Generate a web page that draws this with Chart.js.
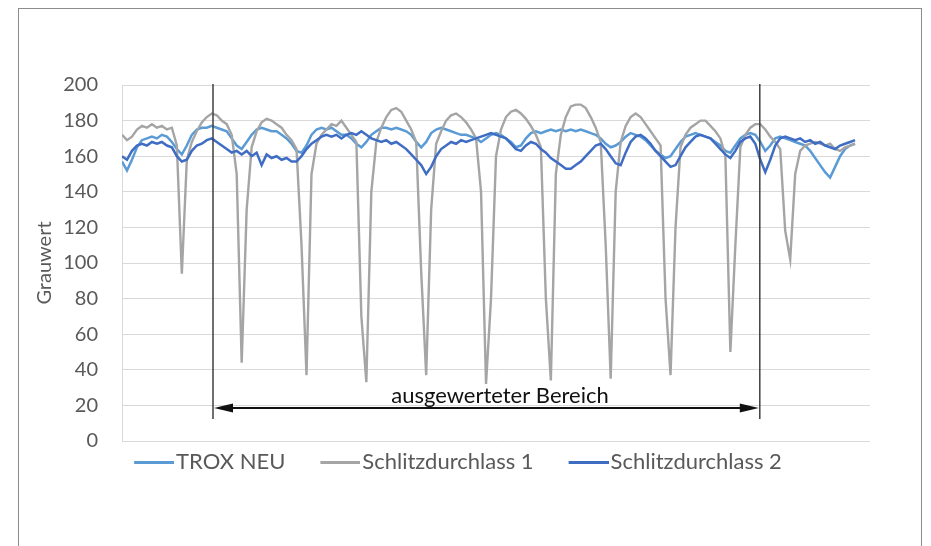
<!DOCTYPE html>
<html>
<head>
<meta charset="utf-8">
<title>Grauwert</title>
<script src="https://cdn.jsdelivr.net/npm/chart.js@4.4.1/dist/chart.umd.min.js"></script>
<style>
    html, body { margin: 0; padding: 0; background: #fff; overflow: hidden; }
    #wrap { position: relative; width: 931px; height: 546px; }
    #frame { position: absolute; left: 18px; top: 8px; width: 904px; height: 560px; border: 1.5px solid #8c8c8c; box-sizing: border-box; }
    #chart { position: absolute; left: 0; top: 0; }
</style>
</head>
<body>
<div id="wrap">
    <div id="frame"></div>
    <canvas id="chart" width="931" height="546"></canvas>
</div>
<script>
// Data (one sample every ~5 px)
var troxNeu = [
    157, 152, 158, 165, 169, 170, 171, 170, 172, 171,
    168, 164, 161, 166, 172, 175, 176, 176, 177, 176,
    175, 174, 170, 166, 164, 168, 172, 175, 176, 175,
    174, 174, 172, 170, 167, 163, 162, 166, 172, 175,
    176, 175, 176, 174, 172, 172, 170, 167, 165, 168,
    172, 174, 176, 176, 175, 176, 175, 174, 172, 168,
    165, 168, 173, 175, 176, 175, 174, 173, 172, 172,
    171, 170, 168, 170, 172, 173, 172, 170, 168, 165,
    166, 170, 173, 174, 173, 174, 175, 174, 175, 174,
    175, 174, 175, 174, 173, 172, 170, 167, 165, 166,
    168, 171, 173, 172, 171, 169, 166, 163, 161, 159,
    160, 164, 168, 171, 172, 173, 172, 171, 170, 168,
    166, 163, 162, 166, 170, 172, 173, 172, 168, 163,
    166, 170, 171, 170, 169, 168, 167, 166, 163, 159,
    155, 151, 148, 154, 160, 164, 166, 167
];

var schlitz1 = [
    172, 169, 171, 175, 177, 176, 178, 176, 177, 175,
    176, 166, 94, 158, 168, 174, 179, 182, 184, 183,
    180, 178, 172, 150, 44, 130, 165, 174, 179, 181,
    180, 178, 176, 172, 169, 164, 110, 37, 150, 167,
    172, 175, 178, 177, 180, 176, 172, 168, 70, 33,
    140, 168, 176, 182, 186, 187, 185, 180, 175, 168,
    95, 37, 130, 167, 174, 180, 183, 184, 182, 179,
    175, 170, 140, 32, 80, 160, 175, 182, 185, 186,
    184, 181, 177, 172, 165, 80, 34, 150, 172, 182,
    188, 189, 189, 187, 182, 176, 168, 110, 35, 140,
    168, 177, 182, 184, 182, 178, 174, 170, 166, 80,
    37, 120, 165, 172, 176, 178, 180, 180, 177, 174,
    170, 160, 50, 110, 165, 172, 176, 178, 178, 175,
    171, 168, 164, 118, 102, 150, 163, 166, 167, 168,
    167, 166, 167, 164, 163, 165, 166, 167
];

var schlitz2 = [
    160, 158, 163, 166, 167, 166, 168, 167, 168, 166,
    165, 160, 157, 158, 163, 166, 167, 169, 170, 168,
    166, 164, 162, 163, 161, 163, 160, 162, 155, 161,
    159, 160, 158, 159, 157, 157, 160, 164, 167, 169,
    171, 172, 171, 172, 170, 172, 173, 172, 174, 172,
    170, 169, 168, 169, 167, 168, 166, 164, 161, 158,
    155, 150, 154, 160, 164, 166, 168, 167, 169, 168,
    169, 170, 171, 172, 173, 172, 171, 170, 167, 164,
    163, 166, 168, 167, 164, 162, 159, 157, 155, 153,
    153, 155, 157, 160, 163, 166, 167, 164, 160, 156,
    155, 162, 168, 171, 172, 170, 167, 163, 160, 157,
    154, 155, 160, 165, 168, 171, 172, 171, 170, 167,
    164, 161, 159, 163, 168, 170, 171, 167, 158, 151,
    158, 166, 170, 171, 170, 169, 170, 168, 169, 167,
    168, 166, 165, 164, 166, 167, 168, 169
];

var seriesNames = ['TROX NEU', 'Schlitzdurchlass 1', 'Schlitzdurchlass 2'];
var yTicks = [0, 20, 40, 60, 80, 100, 120, 140, 160, 180, 200];

// evaluated range marker (sample positions) and its label
var rangeStart = 18.25;
var rangeEnd = 127.9;
var rangeLabel = 'ausgewerteter Bereich';

// sample index for each value
var samples = troxNeu.map(function (v, i) { return i; });

function toPoints(values) {
    return values.map(function (v, i) { return { x: samples[i], y: v }; });
}

var FONT = 'Lato, "Open Sans", sans-serif';

// legend sample: short line drawn at the right end of a wider canvas,
// so it sits close to its text like in Excel
function legendSwatch(color) {
    var c = document.createElement('canvas');
    c.width = 74;
    c.height = 3;
    var g = c.getContext('2d');
    g.fillStyle = color;
    g.fillRect(34, 0, 40, 3);
    return c;
}

// draws the two boundary lines, the double arrow and its caption
var rangePlugin = {
    id: 'rangeMarker',
    afterDatasetsDraw: function (chart) {
        var ctx = chart.ctx;
        var xs = chart.scales.x;
        var ys = chart.scales.y;
        var x0 = xs.getPixelForValue(rangeStart);
        var x1 = xs.getPixelForValue(rangeEnd);
        var top = ys.getPixelForValue(200.5);
        var bottom = ys.getPixelForValue(12.3);
        var ay = ys.getPixelForValue(18.5);

        ctx.save();
        ctx.strokeStyle = '#3f3f3f';
        ctx.lineWidth = 1.5;
        [x0, x1].forEach(function (x) {
            ctx.beginPath();
            ctx.moveTo(x, top);
            ctx.lineTo(x, bottom);
            ctx.stroke();
        });

        // arrow shaft
        ctx.strokeStyle = '#111';
        ctx.fillStyle = '#111';
        ctx.lineWidth = 2;
        ctx.beginPath();
        ctx.moveTo(x0 + 10, ay);
        ctx.lineTo(x1 - 10, ay);
        ctx.stroke();

        // arrow heads
        ctx.beginPath();
        ctx.moveTo(x0 + 1, ay);
        ctx.lineTo(x0 + 20, ay - 4.5);
        ctx.lineTo(x0 + 20, ay + 4.5);
        ctx.closePath();
        ctx.fill();
        ctx.beginPath();
        ctx.moveTo(x1 - 1, ay);
        ctx.lineTo(x1 - 20, ay - 4.5);
        ctx.lineTo(x1 - 20, ay + 4.5);
        ctx.closePath();
        ctx.fill();

        // caption
        ctx.font = '22px ' + FONT;
        ctx.textAlign = 'center';
        ctx.textBaseline = 'alphabetic';
        ctx.fillText(rangeLabel, xs.getPixelForValue(75.8), ay - 5);
        ctx.restore();
    }
};

document.addEventListener('DOMContentLoaded', function () {
    var ctx = document.getElementById('chart').getContext('2d');
    var colors = ['#5b9bd5', '#a5a5a5', '#3f6dc4'];
    var swatches = colors.map(legendSwatch);

    var grauChart = new Chart(ctx, {
        type: 'line',
        data: {
            datasets: [{
                label: seriesNames[0],
                data: toPoints(troxNeu),
                borderColor: colors[0],
                backgroundColor: colors[0],
                borderWidth: 2.5,
                pointRadius: 0,
                order: 3
            }, {
                label: seriesNames[1],
                data: toPoints(schlitz1),
                borderColor: colors[1],
                backgroundColor: colors[1],
                borderWidth: 2.4,
                pointRadius: 0,
                order: 2
            }, {
                label: seriesNames[2],
                data: toPoints(schlitz2),
                borderColor: colors[2],
                backgroundColor: colors[2],
                borderWidth: 2.5,
                pointRadius: 0,
                order: 1
            }]
        },
        options: {
            responsive: false,
            animation: false,
            layout: {
                padding: { left: 10, right: 50, top: 85, bottom: 63 }
            },
            scales: {
                x: {
                    type: 'linear',
                    min: 0,
                    max: 150,
                    display: false
                },
                y: {
                    min: 0,
                    max: 200,
                    afterBuildTicks: function (scale) {
                        scale.ticks = yTicks.map(function (v) { return { value: v }; });
                    },
                    afterFit: function (scale) { scale.width = 112; },
                    grid: { color: '#d9d9d9', drawTicks: false },
                    border: { display: true, color: '#d9d9d9' },
                    ticks: {
                        padding: 24,
                        color: '#595959',
                        font: { family: FONT, size: 20 }
                    },
                    title: {
                        display: true,
                        text: 'Grauwert',
                        color: '#595959',
                        font: { family: FONT, size: 20 },
                        padding: { top: 23, bottom: 0 }
                    }
                },
                yRight: {
                    position: 'right',
                    display: true,
                    afterFit: function (scale) { scale.width = 11; },
                    grid: { display: false },
                    border: { display: false },
                    ticks: { display: false }
                }
            },
            plugins: {
                legend: {
                    position: 'bottom',
                    labels: {
                        usePointStyle: true,
                        pointStyleWidth: 56,
                        boxHeight: 3,
                        padding: 10,
                        color: '#595959',
                        font: { family: FONT, size: 22 },
                        sort: function (a, b) { return a.datasetIndex - b.datasetIndex; },
                        generateLabels: function (chart) {
                            var items = Chart.defaults.plugins.legend.labels.generateLabels(chart);
                            items.forEach(function (item) {
                                item.pointStyle = swatches[item.datasetIndex];
                                item.rotation = 0;
                                item.lineWidth = 0;
                            });
                            return items;
                        }
                    }
                },
                tooltip: { enabled: false }
            }
        },
        plugins: [rangePlugin]
    });
});
</script>
</body>
</html>
